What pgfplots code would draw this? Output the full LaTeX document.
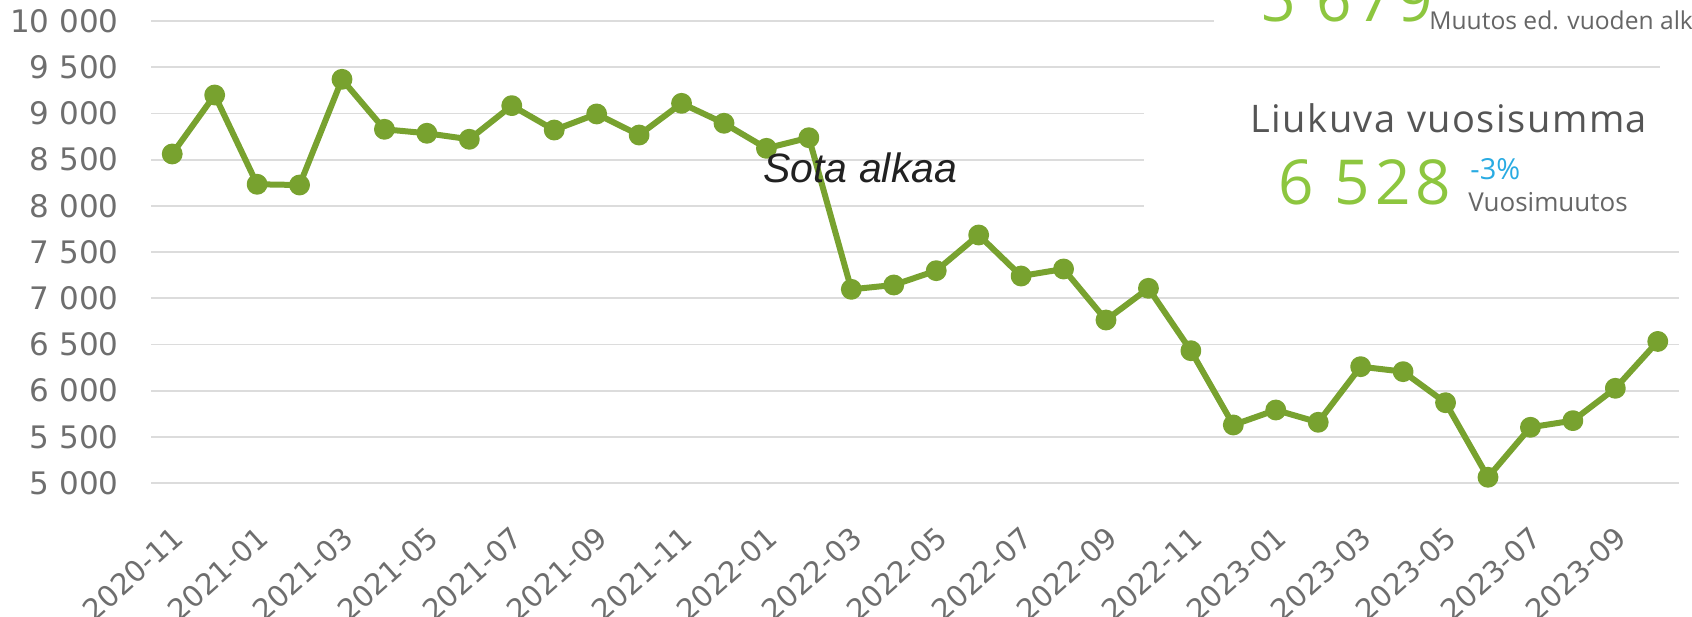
\documentclass[border=0pt]{standalone}
\usepackage{pgfplots}
\pgfplotsset{compat=1.18}
\usepackage{fontspec}
\setmainfont{DejaVu Sans}
\newfontfamily\qfont{Open Sans}
\newfontfamily\qwide{Open Sans}[LetterSpace=4]
\newfontfamily\qbig{Open Sans}[LetterSpace=8]
\newfontfamily\arialf{Liberation Sans}
\definecolor{lineg}{HTML}{78A22F}
\definecolor{bigg}{HTML}{8DC63F}
\definecolor{gridc}{HTML}{DCDCDC}
\definecolor{tickc}{HTML}{6E6E6E}
\definecolor{bluec}{HTML}{29ABE2}
\definecolor{labc}{HTML}{555555}
\definecolor{smallc}{HTML}{666666}

\pgfplotstableread{
idx val
0 8561
1 9199
2 8233
3 8225
4 9369
5 8828
6 8785
7 8720
8 9084
9 8820
10 8994
11 8766
12 9109
13 8893
14 8622
15 8737
16 7096
17 7143
18 7298
19 7684
20 7240
21 7316
22 6764
23 7107
24 6432
25 5628
26 5790
27 5657
28 6259
29 6205
30 5869
31 5062
32 5603
33 5675
34 6025
35 6532
}\datatable

\begin{document}
\begin{tikzpicture}[x=1pt,y=1pt]
\useasboundingbox (0,0) rectangle (846,308);
\clip (0,0) rectangle (846,308);
\begin{axis}[
  at={(75.5pt,66.5pt)}, anchor=south west,
  scale only axis, width=764pt, height=231pt,
  xmin=-0.5, xmax=35.5, ymin=5000, ymax=10000,
  axis line style={draw=none},
  clip=false,
  scaled y ticks=false,
  ytick={5000,5500,6000,6500,7000,7500,8000,8500,9000,9500,10000},
  yticklabels={5 000,5 500,6 000,6 500,7 000,7 500,8 000,8 500,9 000,9 500,10 000},
  ymajorgrids, grid style={gridc, line width=0.9pt},
  major tick length=0pt,
  xtick={0,2,...,34},
  xticklabels={2020-11,2021-01,2021-03,2021-05,2021-07,2021-09,2021-11,2022-01,2022-03,2022-05,2022-07,2022-09,2022-11,2023-01,2023-03,2023-05,2023-07,2023-09},
  xticklabel style={rotate=42, anchor=north east, inner sep=0pt, font=\fontsize{14.6}{17}\selectfont, text=tickc, xshift=-1pt},
  xticklabel shift=20pt,
  yticklabel style={anchor=east, inner sep=0pt, font=\fontsize{15.5}{18}\selectfont, text=tickc},
  yticklabel shift=16pt,
]
\addplot[lineg, line width=3pt, line join=round, mark=*, mark size=3.7pt, mark options={fill=lineg, draw=none}] table[x=idx, y=val] {\datatable};
\end{axis}
% white overlay boxes (KPI panel)
\fill[white] (607,285.5) rectangle (846,308);
\fill[white] (830,268) rectangle (846,280.5);
\fill[white] (572,193) rectangle (846,265.5);
% annotation
\node[anchor=base west, inner sep=0pt, text=black!87] at (381.5,216.5) {\arialf\itshape\fontsize{20.5}{24}\selectfont Sota alkaa};
% KPI texts
\node[anchor=base west, inner sep=0pt, text=bigg] at (630,297) {\qbig\fontsize{31}{36}\selectfont 5 679};
\node[anchor=base west, inner sep=0pt, text=smallc] at (714.5,293) {\qfont\fontsize{12.3}{15}\selectfont Muutos ed. vuoden alkuun};
\node[anchor=base west, inner sep=0pt, text=labc] at (625,241.5) {\qwide\fontsize{19}{23}\selectfont Liukuva vuosisumma};
\node[anchor=base west, inner sep=0pt, text=bigg] at (639,205.5) {\qbig\fontsize{31}{36}\selectfont 6 528};
\node[anchor=base west, inner sep=0pt, text=bluec] at (735,218) {\qfont\fontsize{14.5}{17}\selectfont -3\%};
\node[anchor=base west, inner sep=0pt, text=smallc] at (734,202) {\qfont\fontsize{13}{15}\selectfont Vuosimuutos};
\end{tikzpicture}
\end{document}
